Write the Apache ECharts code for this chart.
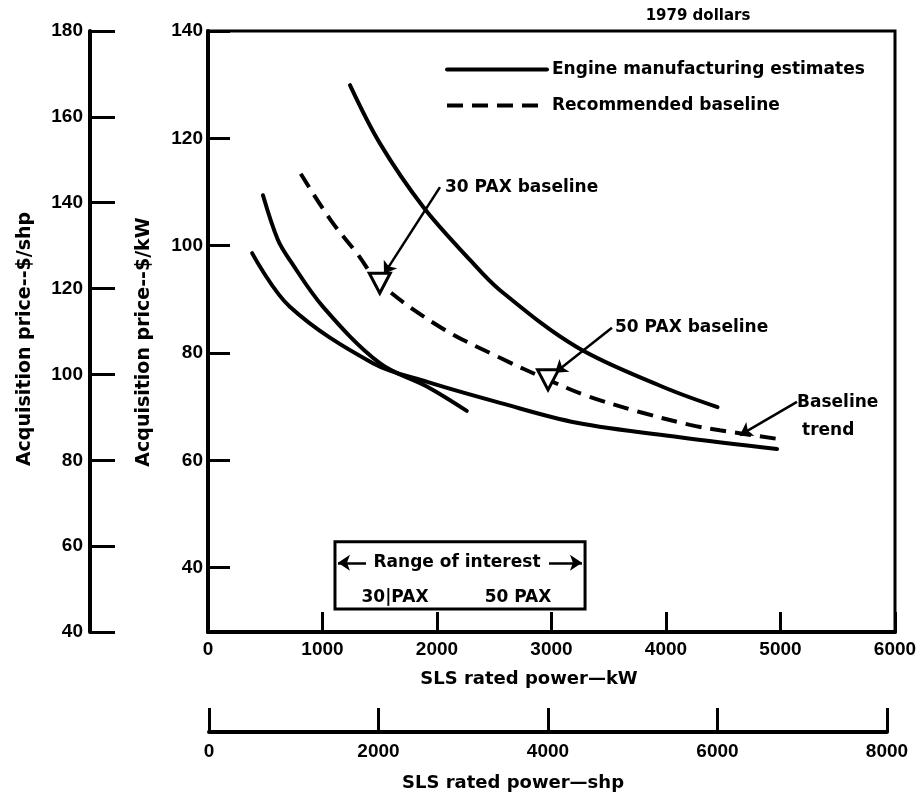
<!DOCTYPE html>
<html><head><meta charset="utf-8">
<script src="https://cdn.jsdelivr.net/npm/echarts@6/dist/echarts.min.js"></script>
<style>html,body{margin:0;padding:0;background:#fff}#c{width:922px;height:795px}</style>
</head><body><div id="c"></div>
<script>
// ---- tick labels ----
const kwTicks = [0, 1000, 2000, 3000, 4000, 5000, 6000];
const shpTicks = [0, 2000, 4000, 6000, 8000];
const perKwTicks = [40, 60, 80, 100, 120, 140];
const perShpTicks = [40, 60, 80, 100, 120, 140, 160, 180];

// ---- series values: [SLS rated power kW, acquisition price $/kW] ----
const estimateUpper = [[1240,129.9],[1500,119.1],[1880,107.2],[2290,97.3],[2550,91.7],[3220,81.1],[3970,73.7],[4450,69.9]];
const estimateSteep = [[480,109.4],[610,101.1],[715,97.3],[1005,88.6],[1500,78.1],[1915,73.7],[2260,69.2]];
const estimateLower = [[385,98.6],[715,88.6],[1440,78.1],[1915,74.6],[2550,70.7],[3220,67.0],[4120,64.3],[4970,62.1]];
const recommendedBaseline = [[810,113.4],[1070,104.8],[1300,98.6],[1500,93.0],[2030,84.8],[2550,79.1],[2970,75.0],[3310,72.0],[3770,69.0],[4210,66.6],[4470,65.6],[4970,64.0]];
const paxBaselinePoints = [[1500,93.0],[2970,75.0]];

// ---- annotation arrows [tail, tip] and range-of-interest box (data coords) ----
const arrowLines = [
  [[2026,110.9],[1537,94.7]],
  [[3528,84.7],[3031,76.3]],
  [[5144,70.9],[4646,64.7]],
  [[1380,40.9],[1135,40.9]],
  [[2978,40.9],[3266,40.9]]
];
const rangeBox = [[1109,44.8],[3293,32.3]];

const black = '#000';
const tickFont = {fontFamily:'"Liberation Sans", Arial, sans-serif', fontWeight:'bold', fontSize:19, color:black};
const nameFont = {fontFamily:'"DejaVu Sans", sans-serif', fontWeight:'bold', fontSize:18, color:black};
const annFont = 'bold 17px "DejaVu Sans", sans-serif';
const plain = v => String(v);

function txt(text, x, y, align, font) {
  return {type:'text', x:x, y:y, z:100, style:{text:text, font:font || annFont, fill:black,
    textAlign:align || 'left', textVerticalAlign:'middle', align:align || 'left', verticalAlign:'middle'}};
}

const chart = echarts.init(document.getElementById('c'), null, {renderer:'canvas'});
const solidStyle = {color:black, width:4, cap:'round'};

chart.setOption({
  animation:false,
  backgroundColor:'#fff',
  color:[black],
  grid:[
    {left:208, right:27, top:31, bottom:163, show:true, borderColor:black, borderWidth:3},
    {left:209, right:35, top:700, bottom:63}
  ],
  xAxis:[
    {type:'value', gridIndex:0, min:0, max:6000, interval:1000,
     axisLine:{onZero:false, lineStyle:{color:black, width:4}},
     axisTick:{inside:true, length:20, lineStyle:{color:black, width:3}},
     axisLabel:Object.assign({}, tickFont, {margin:8, showMinLabel:true, showMaxLabel:true,
       customValues:kwTicks, formatter:plain}),
     splitLine:{show:false},
     name:'SLS rated power\u2014kW', nameLocation:'middle', nameGap:38,
     nameTextStyle:Object.assign({}, nameFont, {padding:[0,45,0,0]})},
    {type:'value', gridIndex:1, min:0, max:8000, interval:2000,
     axisLine:{onZero:false, lineStyle:{color:black, width:4}},
     axisTick:{inside:true, length:24, lineStyle:{color:black, width:3}},
     axisLabel:Object.assign({}, tickFont, {margin:10, showMinLabel:true, showMaxLabel:true,
       customValues:shpTicks, formatter:plain}),
     splitLine:{show:false},
     name:'SLS rated power\u2014shp', nameLocation:'middle', nameGap:42,
     nameTextStyle:Object.assign({}, nameFont, {padding:[0,70,0,0]})}
  ],
  yAxis:[
    {type:'value', gridIndex:0, min:28, max:140, position:'left',
     axisLine:{onZero:false, lineStyle:{color:black, width:4}},
     axisTick:{inside:true, length:22, lineStyle:{color:black, width:3}, customValues:perKwTicks},
     axisLabel:Object.assign({}, tickFont, {margin:5, customValues:perKwTicks, formatter:plain}),
     splitLine:{show:false},
     name:'Acquisition price--$/kW', nameLocation:'middle', nameRotate:90, nameGap:54,
     nameTextStyle:Object.assign({}, nameFont, {fontSize:19, padding:[0,21,0,0]})},
    {type:'value', gridIndex:0, min:40, max:180, interval:20, position:'left', offset:118,
     axisLine:{onZero:false, lineStyle:{color:black, width:4}},
     axisTick:{inside:true, length:25, lineStyle:{color:black, width:3}},
     axisLabel:Object.assign({}, tickFont, {margin:7, showMinLabel:true, showMaxLabel:true,
       customValues:perShpTicks, formatter:plain}),
     splitLine:{show:false},
     name:'Acquisition price--$/shp', nameLocation:'middle', nameRotate:90, nameGap:55,
     nameTextStyle:Object.assign({}, nameFont, {fontSize:19, padding:[0,15,0,0]})},
    {type:'value', gridIndex:1, min:0, max:1, show:false}
  ],
  legend:{
    data:['Engine manufacturing estimates','Recommended baseline'],
    orient:'vertical', left:445, top:61, padding:0,
    itemWidth:100, itemHeight:14, itemGap:19, selectedMode:false,
    lineStyle:{width:4},
    itemStyle:{color:'rgba(0,0,0,0)', borderWidth:0, opacity:0},
    textStyle:{fontFamily:'"DejaVu Sans", sans-serif', fontWeight:'bold', fontSize:17, color:black}
  },
  series:[
    {type:'line', name:'Engine manufacturing estimates', xAxisIndex:0, yAxisIndex:0,
     data:estimateUpper, symbol:'none', smooth:0.35, lineStyle:solidStyle, itemStyle:{color:black}, z:3},
    {type:'line', name:'Engine manufacturing estimates', xAxisIndex:0, yAxisIndex:0,
     data:estimateSteep, symbol:'none', smooth:0.35, lineStyle:solidStyle, itemStyle:{color:black}, z:3},
    {type:'line', name:'Engine manufacturing estimates', xAxisIndex:0, yAxisIndex:0,
     data:estimateLower, symbol:'none', smooth:0.35, lineStyle:solidStyle, itemStyle:{color:black}, z:3},
    {type:'line', name:'Recommended baseline', xAxisIndex:0, yAxisIndex:0,
     data:recommendedBaseline, symbol:'none', smooth:0.35, itemStyle:{color:black},
     lineStyle:{color:black, width:4, type:[16,9], cap:'butt'}, z:3},
    {type:'scatter', name:'PAX baseline points', xAxisIndex:0, yAxisIndex:0,
     data:paxBaselinePoints, symbol:'triangle', symbolRotate:180, symbolSize:[21,20],
     itemStyle:{color:'#fff', borderColor:black, borderWidth:3, opacity:1}, z:5,
     markLine:{silent:true, symbol:['none','arrow'], symbolSize:12, precision:4,
       label:{show:false}, lineStyle:{color:black, width:2.5, type:'solid'},
       emphasis:{disabled:true},
       data:arrowLines.map(a => [{coord:a[0]}, {coord:a[1]}])},
     markArea:{silent:true, label:{show:false},
       itemStyle:{color:'rgba(0,0,0,0)', borderColor:black, borderWidth:3},
       data:[[{coord:rangeBox[0]}, {coord:rangeBox[1]}]]}
    }
  ],
  graphic:[
    txt('1979 dollars', 698, 16, 'center', 'bold 15px "DejaVu Sans", sans-serif'),
    txt('30 PAX baseline', 445, 188),
    txt('50 PAX baseline', 615, 328),
    txt('Baseline', 797, 403),
    txt('trend', 802, 431),
    txt('Range of interest', 457, 563, 'center'),
    txt('30|PAX', 395, 598, 'center'),
    txt('50 PAX', 518, 598, 'center')
  ]
});
</script>
</body></html>
